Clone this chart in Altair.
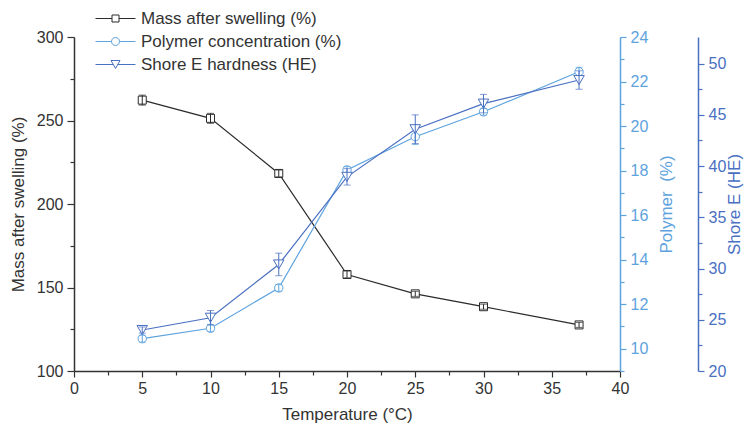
import altair as alt
import pandas as pd

temps = [5, 10, 15, 20, 25, 30, 37]
mass = [262.2, 251.3, 218.3, 157.8, 146.2, 138.5, 127.6]
mass_err = [3.0, 3.0, 2.0, 2.0, 1.5, 1.5, 1.5]
polymer = [10.45, 10.92, 12.73, 18.03, 19.52, 20.64, 22.44]
polymer_err = [0.15, 0.15, 0.15, 0.15, 0.35, 0.15, 0.2]
shore = [24.0, 25.2, 30.4, 38.95, 43.6, 46.1, 48.4]
shore_err = [0.3, 0.7, 1.1, 0.8, 1.4, 0.9, 0.9]

series_names = ["Mass after swelling (%)", "Polymer concentration (%)", "Shore E hardness (HE)"]
series_colors = ["#2b2b2b", "#5ea3de", "#4a70c2"]
legend_paths = [
    "M-4,0H-0.7M0.7,0H4M-0.7,-0.7H0.7V0.7H-0.7Z",
    "M-4,0H-0.8M0.8,0H4M0.8,0A0.8,0.8,0,1,1,-0.8,0A0.8,0.8,0,1,1,0.8,0",
    "M-4,0H-0.45M0.45,0H4M-0.9,-0.8L0.9,-0.8L0,0.8Z",
]

FONT = "Liberation Sans"
TXT = "#333333"


def frame(vals, errs):
    return pd.DataFrame({
        "temp": temps,
        "val": vals,
        "lo": [v - e for v, e in zip(vals, errs)],
        "hi": [v + e for v, e in zip(vals, errs)],
    })


xaxis = alt.Axis(
    values=[i * 2.5 for i in range(17)],
    labelExpr="datum.value % 5 == 0 ? datum.label : ''",
    tickSize={"condition": {"test": "datum.value % 5 == 0", "value": 6}, "value": 4},
    labelOverlap=False, labelFlush=False, grid=False,
    domainColor=TXT, tickColor=TXT, labelColor=TXT, titleColor=TXT,
    domainWidth=1.5, tickWidth=1.2, labelFontSize=16, titleFontSize=17,
    labelPadding=3, titlePadding=10, titleFontWeight="normal",
)
X = alt.X("temp:Q", scale=alt.Scale(domain=[0, 40], nice=False), axis=xaxis,
          title="Temperature (°C)")


def group(df, color, shape, size, domain, axis, title):
    base = alt.Chart(df)
    sc = alt.Scale(domain=domain, nice=False, zero=False)

    def Y(field):
        return alt.Y(field, scale=sc, axis=axis, title=title)

    line = base.mark_line(color=color, strokeWidth=1.2).encode(x=X, y=Y("val:Q"))
    pts = base.mark_point(shape=shape, size=size, filled=True, fill="white",
                          stroke=color, strokeWidth=1, opacity=1).encode(x=X, y=Y("val:Q"))
    rule = base.mark_rule(color=color, strokeWidth=1).encode(x=X, y=Y("lo:Q"), y2="hi:Q")
    cap1 = base.mark_tick(color=color, orient="horizontal", size=7, thickness=1).encode(x=X, y=Y("lo:Q"))
    cap2 = base.mark_tick(color=color, orient="horizontal", size=7, thickness=1).encode(x=X, y=Y("hi:Q"))
    return alt.layer(line, pts, rule, cap1, cap2)


mass_axis = alt.Axis(
    orient="left",
    values=list(range(100, 301, 25)),
    labelExpr="datum.value % 50 == 0 ? datum.label : ''",
    tickSize={"condition": {"test": "datum.value % 50 == 0", "value": 7}, "value": 4},
    labelOverlap=False, labelFlush=False, grid=False,
    domainColor=TXT, tickColor=TXT, labelColor=TXT, titleColor=TXT,
    domainWidth=1.5, tickWidth=1.2, labelFontSize=16, titleFontSize=17,
    labelPadding=4, titlePadding=9, titleFontWeight="normal",
)
poly_axis = alt.Axis(
    orient="right",
    values=list(range(9, 25)),
    labelExpr="datum.value % 2 == 0 ? datum.label : ''",
    tickSize={"condition": {"test": "datum.value % 2 == 0", "value": 6}, "value": 4},
    labelOverlap=False, labelFlush=False, grid=False,
    domainColor=series_colors[1], tickColor=series_colors[1],
    labelColor=series_colors[1], titleColor=series_colors[1],
    domainWidth=1.5, tickWidth=1.2, labelFontSize=16, titleFontSize=17,
    labelPadding=4, titlePadding=11, titleFontWeight="normal",
    titleAngle=270, titleBaseline="top",
)
shore_axis = alt.Axis(
    orient="right", offset=78,
    values=[20 + i * 2.5 for i in range(13)],
    labelExpr="datum.value % 5 == 0 ? datum.label : ''",
    tickSize={"condition": {"test": "datum.value % 5 == 0", "value": 6}, "value": 4},
    labelOverlap=False, labelFlush=False, grid=False,
    domainColor=series_colors[2], tickColor=series_colors[2],
    labelColor=series_colors[2], titleColor=series_colors[2],
    domainWidth=1.5, tickWidth=1.2, labelFontSize=16, titleFontSize=17,
    labelPadding=4, titlePadding=1, titleFontWeight="normal",
    titleAngle=270, titleBaseline="top",
)

mass_g = group(frame(mass, mass_err), series_colors[0], "square", 64, [100, 300],
               mass_axis, "Mass after swelling (%)")
poly_g = group(frame(polymer, polymer_err), series_colors[1], "circle", 70, [9, 24],
               poly_axis, "Polymer\u00a0 (%)")
shore_g = group(frame(shore, shore_err), series_colors[2], "triangle-down", 110, [20, 52.6],
                shore_axis, "Shore E (HE)")

leg_df = pd.DataFrame({"series": series_names, "temp": [-10, -10, -10]})
leg = alt.Legend(
    title=None, orient="none", legendX=18, legendY=-27,
    labelFontSize=17, labelColor=TXT, labelFont=FONT, labelLimit=0,
    symbolSize=100, symbolStrokeWidth=1, symbolOffset=15, labelOffset=17,
    rowPadding=5, padding=0, symbolOpacity=1,
)
legend_layer = alt.Chart(leg_df).mark_point(size=100, filled=False, clip=True, strokeWidth=1).encode(
    x=X,
    color=alt.Color("series:N", scale=alt.Scale(domain=series_names, range=series_colors),
                    legend=leg, sort=series_names),
    shape=alt.Shape("series:N", scale=alt.Scale(domain=series_names, range=legend_paths),
                    legend=leg, sort=series_names),
)

chart = alt.layer(mass_g, poly_g, shore_g, legend_layer).resolve_scale(
    y="independent"
).properties(
    width=546, height=334,
    autosize=alt.AutoSizeParams(type="none"),
    padding={"left": 66, "top": 29, "right": 124, "bottom": 54},
).configure(font=FONT).configure_view(stroke=None).configure_axis(grid=False)

chart.save("out.html", embed_options={"renderer": "svg", "actions": False})
